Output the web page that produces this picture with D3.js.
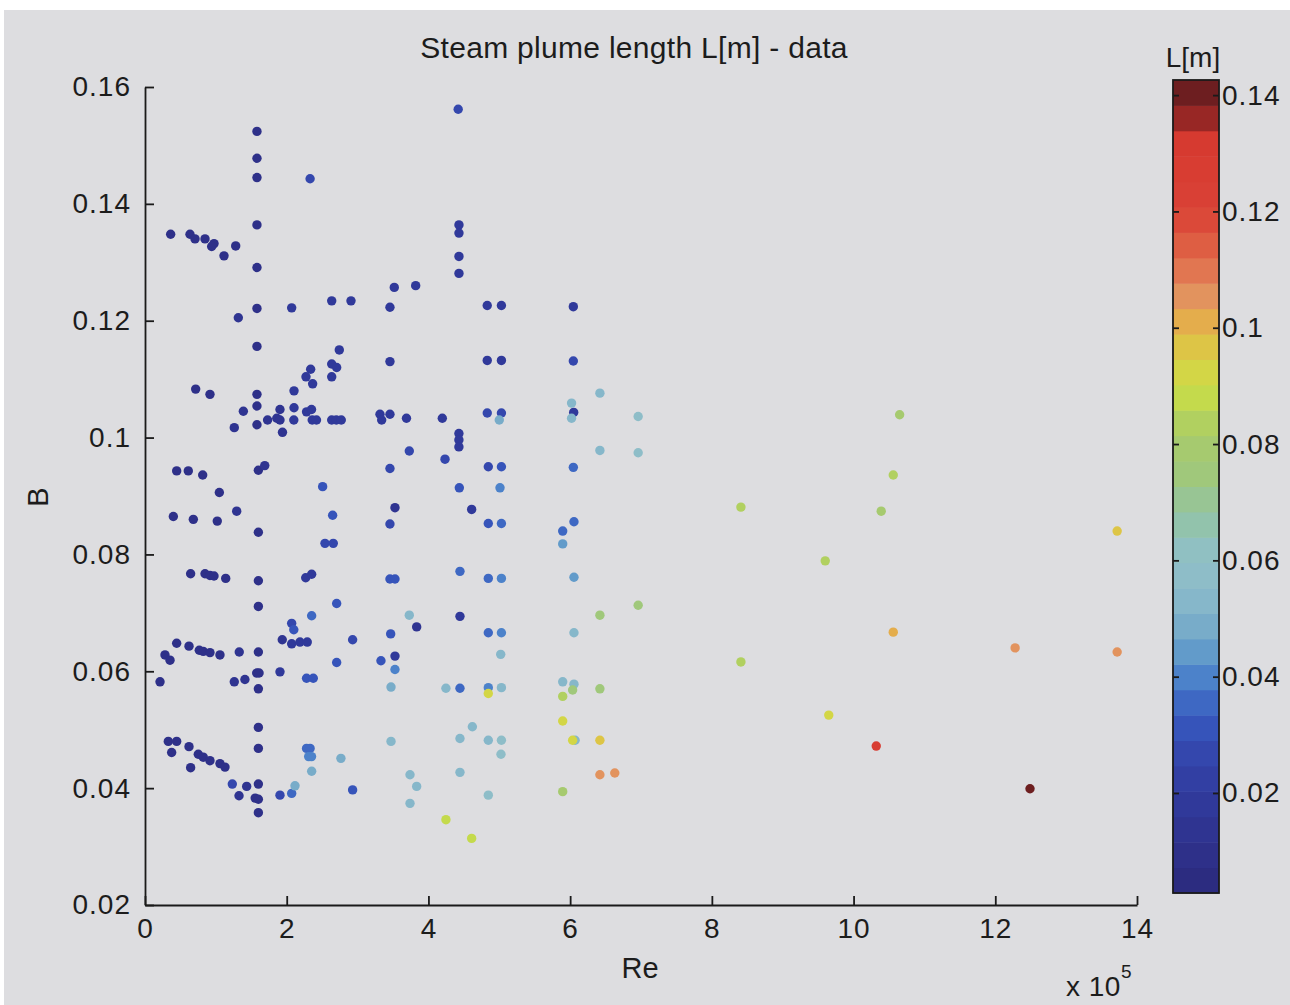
<!DOCTYPE html>
<html>
<head>
<meta charset="utf-8">
<script src="https://cdn.jsdelivr.net/npm/d3@7"></script>
<style>
  body { margin: 0; background: #ffffff; }
  svg { display: block; }
  text { font-family: "Liberation Sans", Arial, Helvetica, sans-serif; fill: #1c1c1c; }
</style>
</head>
<body>
<svg id="chart" width="1290" height="1005"></svg>
<script>
// Reynolds number (x 10^5) of each measurement
const re = [
  0.212, 0.282, 0.353, 0.329, 0.447, 0.376, 0.621, 0.752, 0.822, 0.917, 1.058, 1.129, 0.644,
  0.447, 0.621, 0.766, 0.822, 0.917, 1.058, 1.33, 0.644, 0.847, 0.917, 0.974, 1.139,
  0.40, 0.682, 1.02, 1.294, 1.049, 0.447, 0.611, 0.814, 0.715, 0.917, 1.26, 1.388, 1.317,
  0.362, 0.635, 0.706, 0.847, 0.974, 0.941, 1.115, 1.28, 1.26, 1.41, 1.232, 1.435, 1.327,
  1.58, 1.58, 1.58, 1.58, 1.58, 1.58, 1.58, 1.58, 1.58, 1.58, 1.60, 1.69, 1.60, 1.60, 1.60,
  1.60, 1.576, 1.61, 1.60, 1.60, 1.60, 1.60, 1.555, 1.60, 1.60,
  1.73, 1.86, 1.905, 1.905, 1.94, 2.07, 2.103, 2.103, 2.10, 2.28, 2.35, 2.36, 2.42, 2.635,
  2.70, 2.77, 2.338, 2.272, 2.366, 2.635, 2.705, 2.635, 2.742, 2.635, 2.907, 2.33,
  2.507, 2.648, 2.54, 2.657, 2.268, 2.352, 2.705, 2.352, 2.07, 2.10, 1.937, 2.07, 2.187,
  2.29, 2.705, 2.93, 1.905, 2.28, 2.375, 2.28, 2.33, 2.31, 2.35, 2.352, 2.765, 1.905,
  2.07, 2.117, 2.93,
  3.316, 3.34, 3.457, 3.457, 3.518, 3.82, 3.457, 3.69, 3.73, 3.457, 3.528, 3.457, 3.457,
  3.528, 3.73, 3.834, 3.467, 3.528, 3.33, 3.528, 3.472, 3.472, 3.74, 3.834, 3.74,
  4.196, 4.234, 4.42, 4.431, 4.431, 4.431, 4.431, 4.43, 4.43, 4.43, 4.436, 4.61, 4.445,
  4.445, 4.247, 4.445, 4.445, 4.62, 4.445, 4.247, 4.61,
  4.83, 5.03, 4.83, 5.03, 4.83, 5.03, 5.00, 4.845, 5.03, 5.01, 4.845, 5.03, 4.845, 5.03,
  4.845, 5.03, 5.02, 4.845, 4.845, 5.03, 4.845, 5.03, 5.024, 4.845,
  6.045, 6.045, 6.02, 6.05, 6.02, 6.045, 6.054, 5.895, 5.895, 6.054, 6.054, 5.895, 6.054,
  6.035, 5.895, 5.895, 6.035, 6.07, 5.895,
  6.42, 6.42, 6.42, 6.42, 6.42, 6.42, 6.63, 6.96, 6.96, 6.96,
  8.41, 8.41, 9.60, 9.65, 10.32, 10.39, 10.56, 10.65, 10.56, 12.28, 12.49, 13.72, 13.72
];

// Non-dimensional parameter B of each measurement
const bVal = [
  0.0582, 0.0628, 0.0619, 0.0480, 0.0480, 0.0461, 0.0471, 0.0458, 0.0453, 0.0447, 0.0442, 0.0436, 0.0435,
  0.0648, 0.0643, 0.0636, 0.0634, 0.0632, 0.0628, 0.0633, 0.0767, 0.0767, 0.0764, 0.0763, 0.0759,
  0.0865, 0.0860, 0.0857, 0.0874, 0.0906, 0.0943, 0.0943, 0.0936, 0.1083, 0.1074, 0.1017, 0.1045, 0.1205,
  0.1348, 0.1348, 0.1340, 0.1340, 0.1332, 0.1327, 0.1311, 0.1328, 0.0582, 0.0586, 0.0407, 0.0403, 0.0387,
  0.1524, 0.1478, 0.1445, 0.1364, 0.1291, 0.1221, 0.1156, 0.1074, 0.1054, 0.1022, 0.0944, 0.0952, 0.0838, 0.0755, 0.0711,
  0.0633, 0.0597, 0.0597, 0.0570, 0.0504, 0.0468, 0.0407, 0.0383, 0.0381, 0.0358,
  0.1030, 0.1033, 0.1048, 0.1030, 0.1009, 0.1222, 0.1080, 0.1051, 0.1030, 0.1044, 0.1048, 0.1030, 0.1030, 0.1030,
  0.1030, 0.1030, 0.1117, 0.1104, 0.1092, 0.1126, 0.1120, 0.1104, 0.1150, 0.1234, 0.1234, 0.1443,
  0.0916, 0.0867, 0.0819, 0.0819, 0.0760, 0.0766, 0.0716, 0.0695, 0.0682, 0.0671, 0.0654, 0.0647, 0.0650,
  0.0650, 0.0615, 0.0654, 0.0599, 0.0588, 0.0588, 0.0468, 0.0468, 0.0454, 0.0454, 0.0429, 0.0451, 0.0388,
  0.0391, 0.0404, 0.0397,
  0.1040, 0.1030, 0.1040, 0.1223, 0.1257, 0.1260, 0.1130, 0.1033, 0.0977, 0.0947, 0.0880, 0.0852, 0.0758,
  0.0758, 0.0696, 0.0676, 0.0664, 0.0626, 0.0618, 0.0603, 0.0573, 0.0480, 0.0423, 0.0403, 0.0374,
  0.1033, 0.0963, 0.1562, 0.1364, 0.1350, 0.1310, 0.1281, 0.1007, 0.0996, 0.0984, 0.0914, 0.0877, 0.0771,
  0.0694, 0.0571, 0.0571, 0.0485, 0.0505, 0.0427, 0.0346, 0.0314,
  0.1226, 0.1226, 0.1132, 0.1132, 0.1042, 0.1042, 0.1030, 0.0950, 0.0950, 0.0914, 0.0853, 0.0853, 0.0759, 0.0759,
  0.0666, 0.0666, 0.0629, 0.0572, 0.0562, 0.0572, 0.0482, 0.0482, 0.0458, 0.0388,
  0.1224, 0.1131, 0.1059, 0.1043, 0.1033, 0.0949, 0.0856, 0.0840, 0.0818, 0.0761, 0.0666, 0.0582, 0.0578,
  0.0568, 0.0557, 0.0515, 0.0482, 0.0482, 0.0394,
  0.1076, 0.0978, 0.0696, 0.0570, 0.0482, 0.0423, 0.0426, 0.1036, 0.0974, 0.0713,
  0.0881, 0.0616, 0.0789, 0.0525, 0.0472, 0.0874, 0.0936, 0.1039, 0.0667, 0.0640, 0.0399, 0.0840, 0.0633
];

// Measured steam plume length L [m]
const plumeL = [
  0.010, 0.010, 0.010, 0.010, 0.010, 0.010, 0.010, 0.010, 0.010, 0.010, 0.010, 0.010, 0.010,
  0.010, 0.010, 0.010, 0.010, 0.010, 0.010, 0.012, 0.010, 0.010, 0.010, 0.010, 0.010,
  0.010, 0.010, 0.010, 0.012, 0.010, 0.010, 0.010, 0.010, 0.010, 0.010, 0.012, 0.014, 0.014,
  0.010, 0.010, 0.010, 0.010, 0.010, 0.010, 0.010, 0.010, 0.014, 0.014, 0.026, 0.015, 0.015,
  0.010, 0.010, 0.010, 0.010, 0.010, 0.010, 0.010, 0.010, 0.010, 0.010, 0.010, 0.012, 0.010, 0.010, 0.010,
  0.010, 0.010, 0.010, 0.010, 0.010, 0.010, 0.010, 0.010, 0.010, 0.010,
  0.015, 0.015, 0.015, 0.015, 0.015, 0.018, 0.018, 0.018, 0.018, 0.020, 0.020, 0.020, 0.020, 0.020,
  0.020, 0.020, 0.020, 0.020, 0.020, 0.020, 0.020, 0.020, 0.020, 0.020, 0.020, 0.026,
  0.030, 0.032, 0.026, 0.026, 0.020, 0.020, 0.032, 0.036, 0.026, 0.032, 0.015, 0.020, 0.020,
  0.020, 0.032, 0.026, 0.018, 0.032, 0.032, 0.035, 0.035, 0.040, 0.040, 0.050, 0.050, 0.026,
  0.036, 0.048, 0.030,
  0.018, 0.018, 0.018, 0.020, 0.020, 0.020, 0.020, 0.020, 0.026, 0.026, 0.014, 0.028, 0.032,
  0.032, 0.052, 0.014, 0.032, 0.020, 0.032, 0.040, 0.050, 0.055, 0.055, 0.055, 0.055,
  0.020, 0.026, 0.026, 0.020, 0.020, 0.020, 0.020, 0.020, 0.020, 0.020, 0.032, 0.020, 0.036,
  0.018, 0.055, 0.036, 0.055, 0.055, 0.055, 0.088, 0.088,
  0.020, 0.020, 0.020, 0.020, 0.026, 0.026, 0.050, 0.028, 0.030, 0.040, 0.030, 0.035, 0.035, 0.038,
  0.035, 0.040, 0.055, 0.040, 0.093, 0.055, 0.055, 0.058, 0.058, 0.058,
  0.020, 0.026, 0.055, 0.020, 0.055, 0.035, 0.035, 0.035, 0.045, 0.045, 0.055, 0.055, 0.055,
  0.075, 0.085, 0.093, 0.093, 0.055, 0.080,
  0.055, 0.055, 0.075, 0.075, 0.098, 0.106, 0.106, 0.058, 0.058, 0.075,
  0.085, 0.085, 0.083, 0.092, 0.127, 0.080, 0.083, 0.080, 0.100, 0.105, 0.142, 0.098, 0.106
];

const xTicks = [0, 2, 4, 6, 8, 10, 12, 14];
const yTicks = [0.02, 0.04, 0.06, 0.08, 0.1, 0.12, 0.14, 0.16];
const cbTicks = [0.02, 0.04, 0.06, 0.08, 0.1, 0.12, 0.14];

// colour range of the colour bar (data minimum / maximum of L)
const lRange = [0.0028, 0.1426];
const nBands = 32;

// jet-like ramp as it appears on the printed page
const rampStops = [
  [0.003, "#2c2a7c"], [0.015, "#2f3594"], [0.025, "#3342a8"], [0.032, "#3656bc"],
  [0.038, "#4474c8"], [0.042, "#5590cc"], [0.047, "#72a8c8"], [0.055, "#8dbccb"],
  [0.062, "#90c0c2"], [0.068, "#93c4a2"], [0.075, "#a0c87a"], [0.082, "#aacc68"],
  [0.088, "#c4da4c"], [0.094, "#d8d444"], [0.100, "#e4b448"], [0.106, "#e29060"],
  [0.112, "#e06848"], [0.120, "#da4236"], [0.132, "#d63a30"], [0.137, "#8a2222"],
  [0.1426, "#5a1c1e"]
];
const ramp = d3.scaleLinear()
  .domain(rampStops.map(d => d[0]))
  .range(rampStops.map(d => d[1]))
  .interpolate(d3.interpolateRgb)
  .clamp(true);
const bandStep = (lRange[1] - lRange[0]) / nBands;
const bandColors = d3.range(nBands).map(i => ramp(lRange[0] + (i + 0.5) * bandStep));
const color = d3.scaleQuantize().domain(lRange).range(bandColors);

const svg = d3.select("#chart");
const FONT = "'Liberation Sans', Arial, sans-serif";

// page background
svg.append("rect").attr("x", 4).attr("y", 10).attr("width", 1286).attr("height", 995)
  .attr("fill", "#dddde0");

const x = d3.scaleLinear().domain([0, 14]).range([145, 1137]);
const y = d3.scaleLinear().domain([0.02, 0.16]).range([905, 87]);

// points, drawn from short to long plumes
const pts = re.map((r, i) => ({ r, b: bVal[i], l: plumeL[i] }))
  .sort((a, c) => a.l - c.l);
svg.append("g").selectAll("circle").data(pts).join("circle")
  .attr("cx", d => x(d.r))
  .attr("cy", d => y(d.b))
  .attr("r", 4.7)
  .attr("fill", d => color(d.l));

const tickFmt = d => d === 0.1 ? "0.1" : d3.format(".2f")(d);

// axes
const xAxis = svg.append("g").attr("transform", "translate(0,905)")
  .call(d3.axisBottom(x).tickValues(xTicks).tickSize(-9).tickSizeOuter(0).tickPadding(13)
    .tickFormat(d3.format("d")));
const yAxis = svg.append("g").attr("transform", "translate(145,0)")
  .call(d3.axisLeft(y).tickValues(yTicks).tickSize(-9).tickSizeOuter(0).tickPadding(14)
    .tickFormat(tickFmt));
[xAxis, yAxis].forEach(g => {
  g.select(".domain").attr("stroke", "#1a1a1a").attr("stroke-width", 1.8);
  g.selectAll(".tick line").attr("stroke", "#1a1a1a").attr("stroke-width", 1.8);
  g.selectAll(".tick text").attr("font-size", 28).attr("letter-spacing", 1)
    .attr("fill", "#1c1c1c").attr("font-family", FONT);
});

// titles
svg.append("text").attr("x", 634).attr("y", 58).attr("text-anchor", "middle")
  .attr("font-size", 30).attr("letter-spacing", 0.3).text("Steam plume length L[m] - data");
svg.append("text").attr("x", 640).attr("y", 978).attr("text-anchor", "middle")
  .attr("font-size", 29).text("Re");
svg.append("text").attr("transform", "translate(48,497) rotate(-90)").attr("text-anchor", "middle")
  .attr("font-size", 29).text("B");
const mult = svg.append("text").attr("x", 1066).attr("y", 996).attr("font-size", 28)
  .attr("letter-spacing", 0.5);
mult.append("tspan").text("x 10");
mult.append("tspan").attr("dy", -18).attr("font-size", 19).text("5");

// colour bar
const cbX = 1173, cbW = 46, cbTop = 80, cbBot = 893;
const cb = d3.scaleLinear().domain(lRange).range([cbBot, cbTop]);
svg.append("g").selectAll("rect").data(bandColors).join("rect")
  .attr("x", cbX)
  .attr("y", (d, i) => cb(lRange[0] + (i + 1) * bandStep))
  .attr("width", cbW)
  .attr("height", (d, i) => cb(lRange[0] + i * bandStep) - cb(lRange[0] + (i + 1) * bandStep) + 0.5)
  .attr("fill", d => d);
svg.append("rect").attr("x", cbX).attr("y", cbTop).attr("width", cbW).attr("height", cbBot - cbTop)
  .attr("fill", "none").attr("stroke", "#1a1a1a").attr("stroke-width", 1.8);
const cbLeft = svg.append("g").attr("transform", `translate(${cbX},0)`)
  .call(d3.axisLeft(cb).tickValues(cbTicks).tickSize(-6).tickSizeOuter(0).tickFormat(""));
const cbRight = svg.append("g").attr("transform", `translate(${cbX + cbW},0)`)
  .call(d3.axisRight(cb).tickValues(cbTicks).tickSize(-6).tickSizeOuter(0).tickPadding(3)
    .tickFormat(tickFmt));
[cbLeft, cbRight].forEach(g => {
  g.select(".domain").remove();
  g.selectAll(".tick line").attr("stroke", "#1a1a1a").attr("stroke-width", 1.8);
  g.selectAll(".tick text").attr("font-size", 28).attr("letter-spacing", 1)
    .attr("fill", "#1c1c1c").attr("font-family", FONT);
});
svg.append("text").attr("x", 1193).attr("y", 67).attr("text-anchor", "middle")
  .attr("font-size", 28).text("L[m]");
</script>
</body>
</html>
